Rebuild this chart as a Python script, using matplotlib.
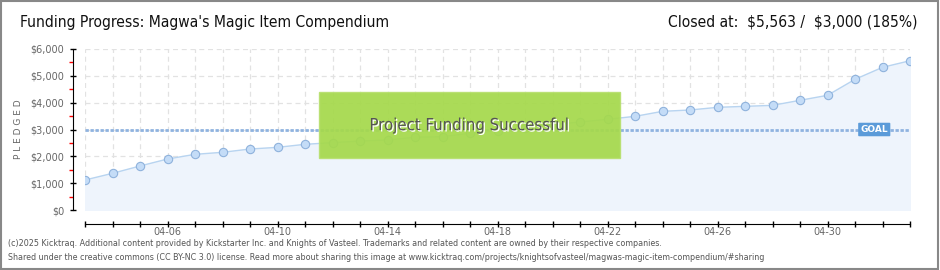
import matplotlib
matplotlib.use("Agg")
import matplotlib.pyplot as plt
from matplotlib.patches import Rectangle
import matplotlib.patheffects as pe
import numpy as np

# ---------------- data ----------------
days = ['04-03', '04-04', '04-05', '04-06', '04-07', '04-08', '04-09', '04-10',
        '04-11', '04-12', '04-13', '04-14', '04-15', '04-16', '04-17', '04-18',
        '04-19', '04-20', '04-21', '04-22', '04-23', '04-24', '04-25', '04-26',
        '04-27', '04-28', '04-29', '04-30', '05-01', '05-02', '05-03']
pledged = [1118, 1367, 1640, 1900, 2075, 2150, 2273, 2335,
           2448, 2510, 2570, 2610, 2710, 2733, 2858, 2950,
           3070, 3180, 3280, 3380, 3490, 3677, 3727, 3826,
           3863, 3900, 4088, 4274, 4870, 5317, 5563]
goal = 3000
yticks = [0, 1000, 2000, 3000, 4000, 5000, 6000]
ylabels = ['$0', '$1,000', '$2,000', '$3,000', '$4,000', '$5,000', '$6,000']

title = "Funding Progress: Magwa's Magic Item Compendium"
closed = "Closed at:  \\$5,563 /  \\$3,000 (185%)"
foot1 = ("(c)2025 Kicktraq. Additional content provided by Kickstarter Inc. and Knights of Vasteel. "
         "Trademarks and related content are owned by their respective companies.")
foot2 = ("Shared under the creative commons (CC BY-NC 3.0) license. Read more about sharing this image at "
         "www.kicktraq.com/projects/knightsofvasteel/magwas-magic-item-compendium/#sharing")

cond = dict(family='DejaVu Sans', stretch='condensed')
grey = '#666666'

fig = plt.figure(figsize=(9.4, 2.7), dpi=100)
fig.patch.set_facecolor('white')
fig.patches.append(Rectangle((0.001, 0.002), 0.997, 0.995, transform=fig.transFigure,
                             fill=False, edgecolor='#888888', lw=1.5))

ax = fig.add_axes([85/940, 60/270, 825/940, 161/270])
x = np.arange(len(days))

ax.fill_between(x, pledged, 0, color='#eef4fc', zorder=1)
ax.plot(x, pledged, color='#b8d4f0', lw=1, zorder=3)
ax.plot(x, pledged, 'o', ms=6, mfc='#c4dcf7', mec='#8fb2dc', mew=0.8, zorder=4)
ax.axhline(goal, color='#8fb3e0', lw=2, ls=(0, (1.2, 0.6)), zorder=2)

ax.set_xlim(0, len(days) - 1)
ax.set_ylim(0, 6000)
ax.set_xticks(x)
ax.set_xticklabels([d if i % 4 == 3 else '' for i, d in enumerate(days)])
ax.set_yticks(yticks)
ax.set_yticklabels(ylabels)
ax.set_yticks(np.arange(500, 6000, 1000), minor=True)
ax.grid(True, which='major', color='#e2e2e2', ls=(0, (4, 3)), lw=0.9)
ax.set_axisbelow(True)

for s in ['top', 'right']:
    ax.spines[s].set_visible(False)
ax.spines['left'].set_position(('outward', 9))
ax.spines['bottom'].set_position(('outward', 10))
ax.spines['left'].set_bounds(0, 6000)
ax.tick_params(axis='both', which='major', direction='inout', length=5, width=1,
               colors='black', labelcolor=grey, labelsize=7)
ax.tick_params(axis='x', which='major', pad=0)
ax.tick_params(axis='y', which='minor', direction='out', length=3, width=1, color='red')
ax.set_ylabel('P L E D G E D', color=grey, fontsize=6.5, labelpad=5)

# goal tag
ax.text(28.7, goal, 'GOAL', color='white', fontsize=6.5, fontweight='bold', ha='center',
        va='center', zorder=6,
        bbox=dict(boxstyle='round,pad=0.25,rounding_size=0.1', fc='#5b9bd9', ec='none'))

# success box
ax.add_patch(Rectangle((0.284, 0.322), 0.364, 0.41, transform=ax.transAxes,
                       facecolor='#a5d94b', edgecolor='#b8e070', lw=1, alpha=0.93, zorder=7))
ax.text(0.466, 0.527, 'Project Funding Successful', transform=ax.transAxes, ha='center',
        va='center', fontsize=12, color='#555555', zorder=8, **cond,
        path_effects=[pe.withSimplePatchShadow(offset=(1, -1), shadow_rgbFace='white', alpha=1)])

fig.text(20/940, 1 - 22/270, title, ha='left', va='center', fontsize=11.2, color='#111111',
         **cond)
fig.text(918/940, 1 - 22/270, closed, ha='right', va='center', fontsize=11.2, color='#111111',
         **cond)
fig.text(8/940, 1 - 243/270, foot1, ha='left', va='center', fontsize=6.4, color='#555555',
         **cond)
fig.text(8/940, 1 - 258/270, foot2, ha='left', va='center', fontsize=6.4, color='#555555',
         **cond)

fig.savefig('out.png', dpi=100)
